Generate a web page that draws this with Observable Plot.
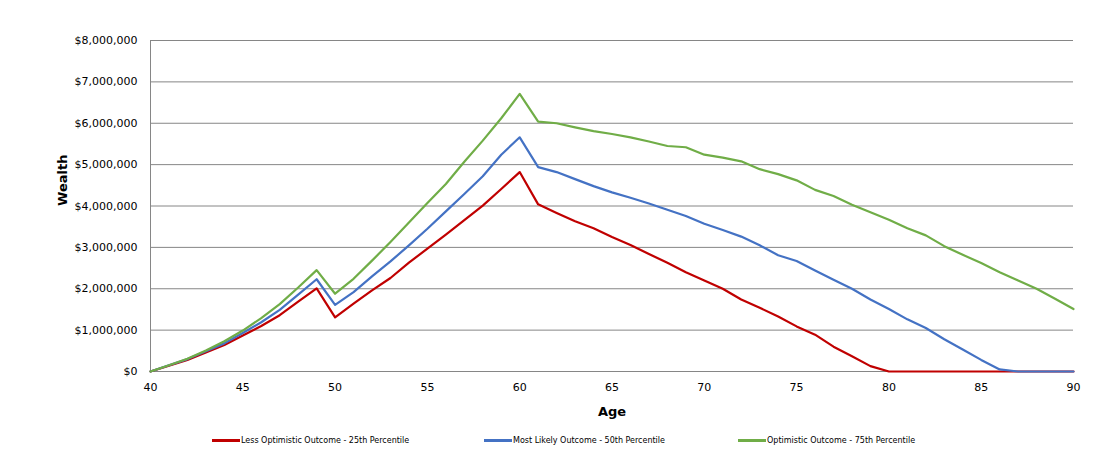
<!DOCTYPE html>
<html>
<head>
<meta charset="utf-8">
<script src="https://cdn.jsdelivr.net/npm/d3@7"></script>
<script src="https://cdn.jsdelivr.net/npm/@observablehq/plot@0.6"></script>
<style>
  body { margin: 0; background: #fff; font-family: "DejaVu Sans", sans-serif; }
  #wrap { position: relative; width: 1119px; height: 466px; }
  .leg { position: absolute; top: 436px; display: flex; align-items: center; font-size: 8px; color: #000; white-space: nowrap; }
  .leg .sw { width: 28px; height: 3px; margin-right: 1px; }
</style>
</head>
<body>
<div id="wrap"></div>
<script>
const ages = d3.range(40, 91);
const seriesNames = [
  "Less Optimistic Outcome - 25th Percentile",
  "Most Likely Outcome - 50th Percentile",
  "Optimistic Outcome - 75th Percentile"
];
const seriesColors = ["#C00000", "#4472C4", "#70AD47"];
const p25 = [0, 140000, 280000, 460000, 640000, 870000, 1100000, 1360000, 1690000, 2010000,
  1310000, 1640000, 1960000, 2260000, 2630000, 2970000, 3310000, 3660000, 4010000, 4410000,
  4820000, 4040000, 3830000, 3630000, 3460000, 3250000, 3060000, 2840000, 2630000, 2400000,
  2200000, 2000000, 1740000, 1540000, 1330000, 1090000, 890000, 600000, 370000, 130000,
  0, 0, 0, 0, 0, 0, 0, 0, 0, 0, 0];
const p50 = [0, 150000, 300000, 490000, 680000, 930000, 1190000, 1490000, 1860000, 2230000,
  1610000, 1920000, 2300000, 2660000, 3050000, 3450000, 3870000, 4290000, 4720000, 5240000,
  5660000, 4940000, 4820000, 4650000, 4480000, 4330000, 4200000, 4060000, 3910000, 3760000,
  3570000, 3420000, 3260000, 3050000, 2810000, 2670000, 2440000, 2220000, 2000000, 1740000,
  1510000, 1260000, 1050000, 780000, 530000, 280000, 50000, 0, 0, 0, 0];
const p75 = [0, 150000, 310000, 510000, 730000, 990000, 1290000, 1630000, 2030000, 2450000,
  1880000, 2240000, 2680000, 3130000, 3600000, 4070000, 4530000, 5070000, 5580000, 6120000,
  6710000, 6040000, 6000000, 5900000, 5810000, 5740000, 5660000, 5560000, 5450000, 5420000,
  5240000, 5170000, 5080000, 4890000, 4770000, 4620000, 4390000, 4240000, 4030000, 3850000,
  3670000, 3460000, 3290000, 3030000, 2820000, 2620000, 2400000, 2200000, 2000000, 1760000, 1510000];
const xTicks = d3.range(40, 91, 5);
const yTicks = d3.range(0, 8000001, 1000000);

const allSeries = [p25, p50, p75];
const data = allSeries.flatMap((vals, i) => ages.map((a, j) => ({age: a, wealth: vals[j], series: seriesNames[i]})));

const fmt = d3.format("$,.0f");
const chart = Plot.plot({
  width: 1119,
  height: 425,
  marginLeft: 150,
  marginRight: 46,
  marginTop: 40,
  marginBottom: 54,
  style: {fontFamily: "DejaVu Sans, sans-serif", fontSize: "11px", color: "#000", background: "#fff"},
  x: {domain: [40, 90], label: null},
  y: {domain: [0, 8000000], label: null},
  color: {domain: seriesNames, range: seriesColors},
  marks: [
    Plot.gridY(yTicks, {stroke: "#868686", strokeOpacity: 1, strokeWidth: 1}),
    Plot.ruleX([40], {stroke: "#868686", strokeWidth: 1}),
    Plot.ruleY([0], {stroke: "#868686", strokeWidth: 1}),
    Plot.axisY({ticks: yTicks, tickSize: 0, tickPadding: 13, tickFormat: fmt, label: null}),
    Plot.axisX({ticks: xTicks, tickSize: 0, tickPadding: 12, tickFormat: d => String(d), label: null}),
    Plot.line(data, {x: "age", y: "wealth", z: "series", stroke: "series", strokeWidth: 2.2}),
    Plot.text(["Age"], {frameAnchor: "bottom", dy: 44, fontWeight: "bold", fontSize: 13}),
    Plot.text(["Wealth"], {frameAnchor: "left", dx: -88, rotate: -90, fontWeight: "bold", fontSize: 13})
  ]
});
const wrap = document.getElementById("wrap");
wrap.appendChild(chart);

const legLefts = [212, 484, 738];
seriesNames.forEach((name, i) => {
  const item = document.createElement("div");
  item.className = "leg";
  item.style.left = legLefts[i] + "px";
  const sw = document.createElement("span");
  sw.className = "sw";
  sw.style.background = seriesColors[i];
  const t = document.createElement("span");
  t.textContent = name;
  item.appendChild(sw);
  item.appendChild(t);
  wrap.appendChild(item);
});
</script>
</body>
</html>
